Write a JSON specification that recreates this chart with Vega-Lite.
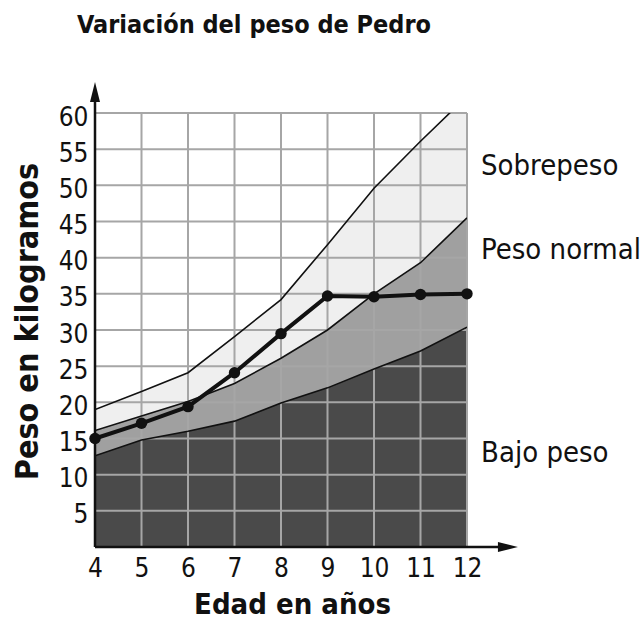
{
  "$schema": "https://vega.github.io/schema/vega-lite/v6.json",
  "width": 372,
  "height": 434,
  "autosize": "none",
  "padding": {"left": 95, "top": 113, "right": 177, "bottom": 73},
  "background": "white",
  "title": {
    "text": "Variación del peso de Pedro",
    "font": "DejaVu Sans Condensed",
    "fontSize": 25,
    "fontWeight": "bold",
    "color": "#111111",
    "anchor": "middle",
    "dx": -27,
    "baseline": "alphabetic",
    "offset": 24
  },
  "config": {
    "view": {"stroke": null},
    "font": "DejaVu Sans Condensed",
    "axis": {
      "grid": false,
      "domain": false,
      "ticks": false,
      "tickSize": 0,
      "labelFlush": false,
      "labelOverlap": false,
      "labelFont": "DejaVu Sans Condensed",
      "labelFontSize": 26,
      "labelColor": "#111111",
      "titleFont": "DejaVu Sans Condensed",
      "titleFontWeight": "bold",
      "titleColor": "#111111"
    },
    "axisX": {"labelPadding": 8, "titleFontSize": 29, "titleX": 197, "titleY": 66, "titleBaseline": "alphabetic", "titleAlign": "center", "titleAnchor": null},
    "axisY": {"labelPadding": 7, "labelOffset": 4, "titleFontSize": 32, "titleX": -58, "titleY": 208, "titleBaseline": "alphabetic", "titleAlign": "center", "titleAngle": -90, "titleAnchor": null}
  },
  "datasets": {
    "bandas": [
      {"edad": 4, "banda": "bajo", "peso": 12.6},
      {"edad": 5, "banda": "bajo", "peso": 14.8},
      {"edad": 6, "banda": "bajo", "peso": 16.0},
      {"edad": 7, "banda": "bajo", "peso": 17.4},
      {"edad": 8, "banda": "bajo", "peso": 19.9},
      {"edad": 9, "banda": "bajo", "peso": 22.0},
      {"edad": 10, "banda": "bajo", "peso": 24.6},
      {"edad": 11, "banda": "bajo", "peso": 27.1},
      {"edad": 12, "banda": "bajo", "peso": 30.4},
      {"edad": 4, "banda": "normal", "peso": 16.1},
      {"edad": 5, "banda": "normal", "peso": 18.1},
      {"edad": 6, "banda": "normal", "peso": 20.1},
      {"edad": 7, "banda": "normal", "peso": 22.6},
      {"edad": 8, "banda": "normal", "peso": 26.1},
      {"edad": 9, "banda": "normal", "peso": 30.0},
      {"edad": 10, "banda": "normal", "peso": 35.0},
      {"edad": 11, "banda": "normal", "peso": 39.3},
      {"edad": 12, "banda": "normal", "peso": 45.5},
      {"edad": 4, "banda": "sobre", "peso": 19.0},
      {"edad": 5, "banda": "sobre", "peso": 21.5},
      {"edad": 6, "banda": "sobre", "peso": 24.1},
      {"edad": 7, "banda": "sobre", "peso": 29.1},
      {"edad": 8, "banda": "sobre", "peso": 34.2},
      {"edad": 9, "banda": "sobre", "peso": 41.8},
      {"edad": 10, "banda": "sobre", "peso": 49.6},
      {"edad": 11, "banda": "sobre", "peso": 56.1},
      {"edad": 12, "banda": "sobre", "peso": 62.3}
    ],
    "pedro": [
      {"edad": 4, "peso": 15.0},
      {"edad": 5, "peso": 17.1},
      {"edad": 6, "peso": 19.4},
      {"edad": 7, "peso": 24.1},
      {"edad": 8, "peso": 29.5},
      {"edad": 9, "peso": 34.7},
      {"edad": 10, "peso": 34.6},
      {"edad": 11, "peso": 34.9},
      {"edad": 12, "peso": 35.0}
    ],
    "gx": [
      {"edad": 5}, {"edad": 6}, {"edad": 7}, {"edad": 8},
      {"edad": 9}, {"edad": 10}, {"edad": 11}, {"edad": 12}
    ],
    "gy": [
      {"peso": 5}, {"peso": 10}, {"peso": 15}, {"peso": 20}, {"peso": 25}, {"peso": 30},
      {"peso": 35}, {"peso": 40}, {"peso": 45}, {"peso": 50}, {"peso": 55}, {"peso": 60}
    ],
    "ejes": [
      {"edad": 4, "peso": 0, "edad2": 4, "peso2": 62.9},
      {"edad": 4, "peso": 0, "edad2": 12.88, "peso2": 0}
    ],
    "puntas": [
      {"edad": 4, "peso": 62.9, "dir": "arriba"},
      {"edad": 12.88, "peso": 0, "dir": "derecha"}
    ],
    "etiquetas": [
      {"edad": 12, "peso": 51.4, "texto": "Sobrepeso"},
      {"edad": 12, "peso": 39.8, "texto": "Peso normal"},
      {"edad": 12, "peso": 11.75, "texto": "Bajo peso"}
    ]
  },
  "layer": [
    {
      "data": {"name": "bandas"},
      "transform": [{"filter": "datum.banda == 'sobre'"}],
      "mark": {"type": "area", "color": "#efefef", "clip": true},
      "encoding": {
        "x": {"field": "edad", "type": "quantitative", "scale": {"domain": [4, 12], "nice": false, "zero": false},
              "axis": {"title": "Edad en años", "values": [4, 5, 6, 7, 8, 9, 10, 11, 12], "labelOverlap": false, "labelFlush": false}},
        "y": {"field": "peso", "type": "quantitative", "scale": {"domain": [0, 60], "nice": false},
              "axis": {"title": "Peso en kilogramos", "values": [5, 10, 15, 20, 25, 30, 35, 40, 45, 50, 55, 60], "labelOverlap": false, "labelFlush": false, "tickCount": 12}}
      }
    },
    {
      "data": {"name": "bandas"},
      "transform": [{"filter": "datum.banda == 'normal'"}],
      "mark": {"type": "area", "color": "#a0a0a0", "clip": true},
      "encoding": {
        "x": {"field": "edad", "type": "quantitative"},
        "y": {"field": "peso", "type": "quantitative"}
      }
    },
    {
      "data": {"name": "bandas"},
      "transform": [{"filter": "datum.banda == 'bajo'"}],
      "mark": {"type": "area", "color": "#4a4a4a", "clip": true},
      "encoding": {
        "x": {"field": "edad", "type": "quantitative"},
        "y": {"field": "peso", "type": "quantitative"}
      }
    },
    {
      "data": {"name": "gx"},
      "mark": {"type": "rule", "color": "#a6a6a6", "strokeWidth": 2},
      "encoding": {"x": {"field": "edad", "type": "quantitative"}}
    },
    {
      "data": {"name": "gy"},
      "mark": {"type": "rule", "color": "#a6a6a6", "strokeWidth": 2},
      "encoding": {"y": {"field": "peso", "type": "quantitative"}}
    },
    {
      "data": {"name": "bandas"},
      "mark": {"type": "line", "color": "#111111", "strokeWidth": 1.6, "clip": true},
      "encoding": {
        "x": {"field": "edad", "type": "quantitative"},
        "y": {"field": "peso", "type": "quantitative"},
        "detail": {"field": "banda"}
      }
    },
    {
      "data": {"name": "ejes"},
      "mark": {"type": "rule", "color": "#111111", "strokeWidth": 2.5},
      "encoding": {
        "x": {"field": "edad", "type": "quantitative"},
        "y": {"field": "peso", "type": "quantitative"},
        "x2": {"field": "edad2"},
        "y2": {"field": "peso2"}
      }
    },
    {
      "data": {"name": "puntas"},
      "mark": {"type": "point", "filled": true, "opacity": 1, "color": "#111111", "size": 400},
      "encoding": {
        "x": {"field": "edad", "type": "quantitative"},
        "y": {"field": "peso", "type": "quantitative"},
        "shape": {"field": "dir", "type": "nominal", "legend": null,
                  "scale": {"domain": ["arriba", "derecha"], "range": ["M-0.5,1L0,-1L0.5,1Z", "M-1,-0.5L1,0L-1,0.5Z"]}}
      }
    },
    {
      "data": {"name": "pedro"},
      "mark": {"type": "line", "color": "#111111", "strokeWidth": 4,
               "point": {"filled": true, "size": 130, "color": "#111111", "opacity": 1}},
      "encoding": {
        "x": {"field": "edad", "type": "quantitative"},
        "y": {"field": "peso", "type": "quantitative"}
      }
    },
    {
      "data": {"name": "etiquetas"},
      "mark": {"type": "text", "align": "left", "baseline": "alphabetic", "dx": 14, "fontSize": 29, "font": "DejaVu Sans Condensed", "color": "#111111"},
      "encoding": {
        "x": {"field": "edad", "type": "quantitative"},
        "y": {"field": "peso", "type": "quantitative"},
        "text": {"field": "texto"}
      }
    }
  ]
}
